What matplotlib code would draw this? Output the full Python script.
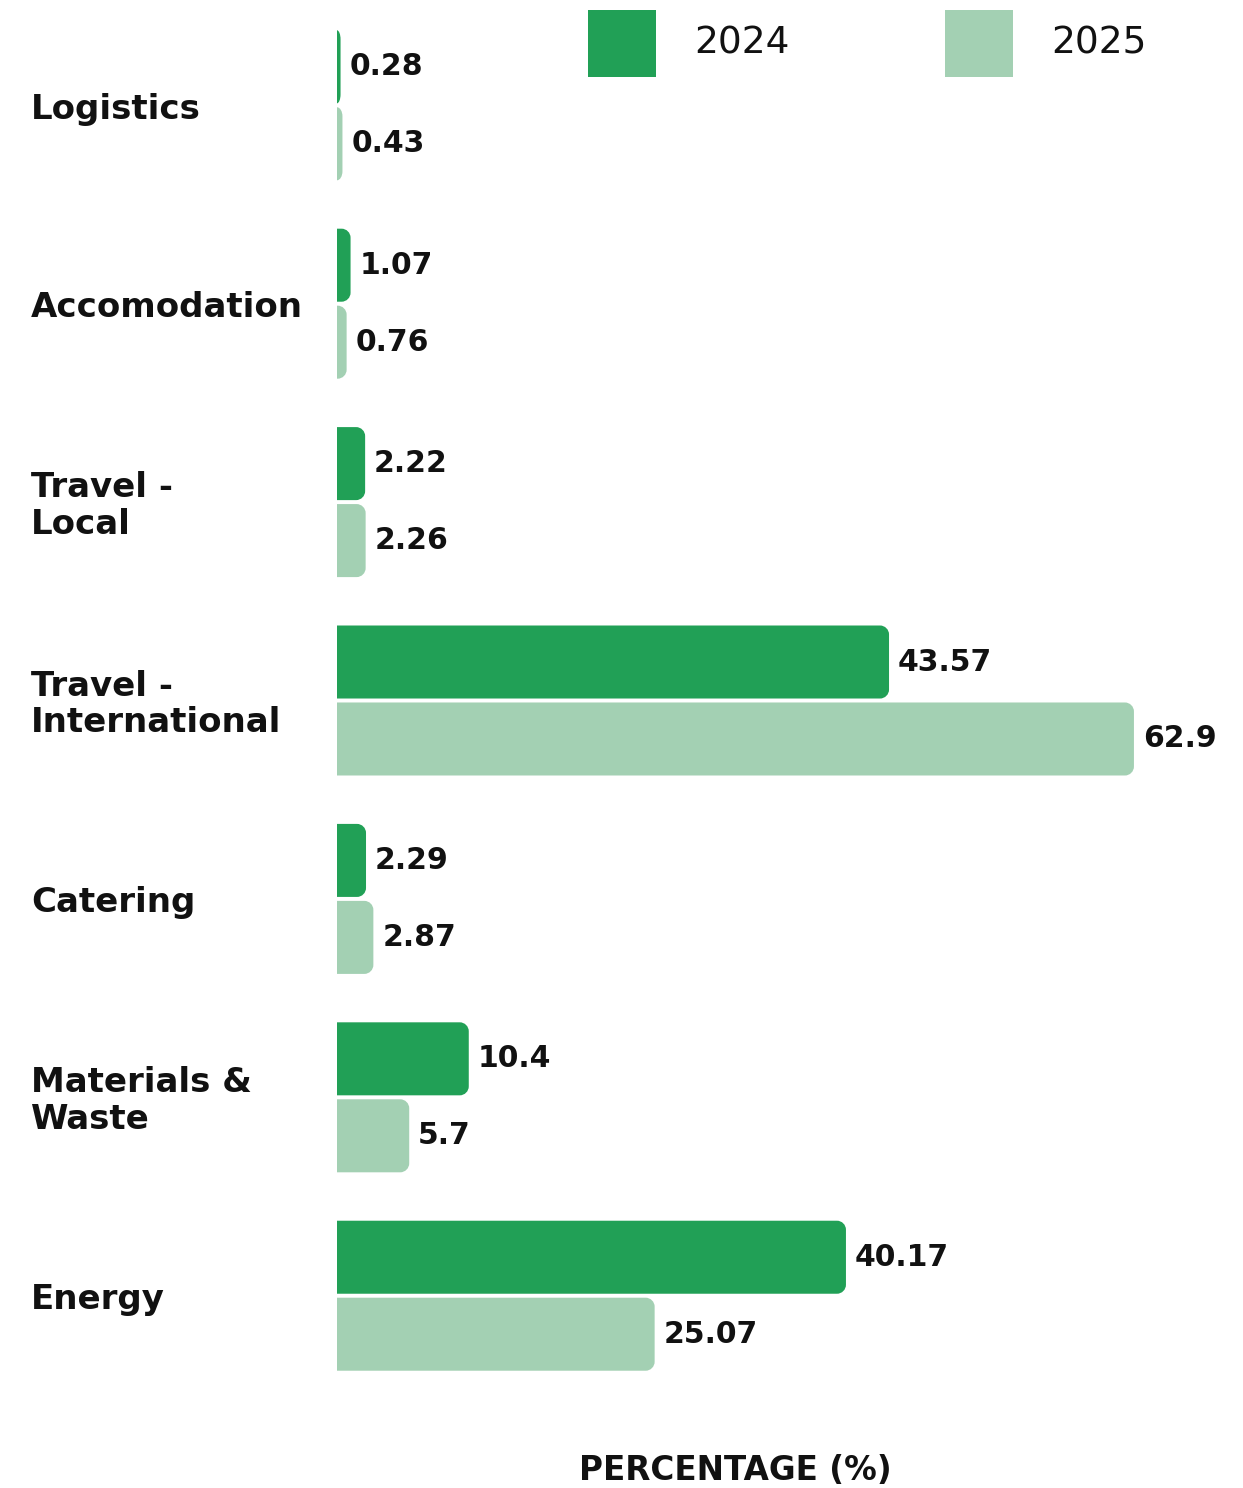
import matplotlib
matplotlib.use('Agg')
import matplotlib.pyplot as plt
from matplotlib.path import Path
from matplotlib.patches import PathPatch, Rectangle

# Data
categories = ['Logistics', 'Accomodation', 'Travel -\nLocal', 'Travel -\nInternational',
              'Catering', 'Materials &\nWaste', 'Energy']
values_2024 = [0.28, 1.07, 2.22, 43.57, 2.29, 10.4, 40.17]
values_2025 = [0.43, 0.76, 2.26, 62.9, 2.87, 5.7, 25.07]
series_labels = ['2024', '2025']

DARK = '#21A056'
LIGHT = '#A3D0B3'
TEXT = '#111111'
BAR_H = 0.368
OFFSET = 0.194

plt.rcParams['font.family'] = ['DejaVu Sans']

W, H = 1243, 1488
fig = plt.figure(figsize=(W / 100, H / 100), dpi=100)
ax = fig.add_axes([337 / W, 1 - 1385 / H, 1 - 337 / W, (1385 - 16) / H])
ax.set_xlim(0, (W - 337) / 12.67)
ax.set_ylim(6.45, -0.45)
ax.axis('off')


def rounded_bar(ax, yc, w, h, color, r_px=9):
    # bar from x=0 to x=w, rounded on the right-hand corners
    p0 = ax.transData.transform((0, 0))
    p1 = ax.transData.transform((1, 1))
    rx = r_px / abs(p1[0] - p0[0])
    ry = r_px / abs(p1[1] - p0[1])
    rx = min(rx, w)
    k = 0.5523
    y0, y1 = yc - h / 2, yc + h / 2
    verts = [(0, y0), (w - rx, y0),
             (w - rx + k * rx, y0), (w, y0 + ry - k * ry), (w, y0 + ry),
             (w, y1 - ry),
             (w, y1 - ry + k * ry), (w - rx + k * rx, y1), (w - rx, y1),
             (0, y1), (0, y0)]
    codes = [Path.MOVETO, Path.LINETO,
             Path.CURVE4, Path.CURVE4, Path.CURVE4,
             Path.LINETO,
             Path.CURVE4, Path.CURVE4, Path.CURVE4,
             Path.LINETO, Path.CLOSEPOLY]
    ax.add_patch(PathPatch(Path(verts, codes), facecolor=color, edgecolor='none'))


for i, (v1, v2) in enumerate(zip(values_2024, values_2025)):
    for v, dy, col in ((v1, -OFFSET, DARK), (v2, OFFSET, LIGHT)):
        rounded_bar(ax, i + dy, v, BAR_H, col)
        ax.text(v + 0.7, i + dy, f'{v:g}', ha='left', va='center',
                fontsize=21.5, fontweight='bold', color=TEXT)
    ax.text(-306 / 12.67, i + 0.02, categories[i], ha='left', va='center',
            fontsize=24.5, fontweight='bold', color=TEXT, linespacing=1.15)

# legend
for x_px, col, lab in ((588, DARK, series_labels[0]), (945, LIGHT, series_labels[1])):
    fig.add_artist(Rectangle((x_px / W, 1 - 77 / H), 68 / W, 67 / H,
                             transform=fig.transFigure, facecolor=col, edgecolor='none'))
    fig.text((x_px + 106) / W, 1 - 43 / H, lab, ha='left', va='center',
             fontsize=27, color=TEXT)

fig.text(735 / W, 1 - 1470 / H, 'PERCENTAGE (%)', ha='center', va='center',
         fontsize=23.5, fontweight='bold', color=TEXT)

fig.savefig('out.png', dpi=100, facecolor='white')
